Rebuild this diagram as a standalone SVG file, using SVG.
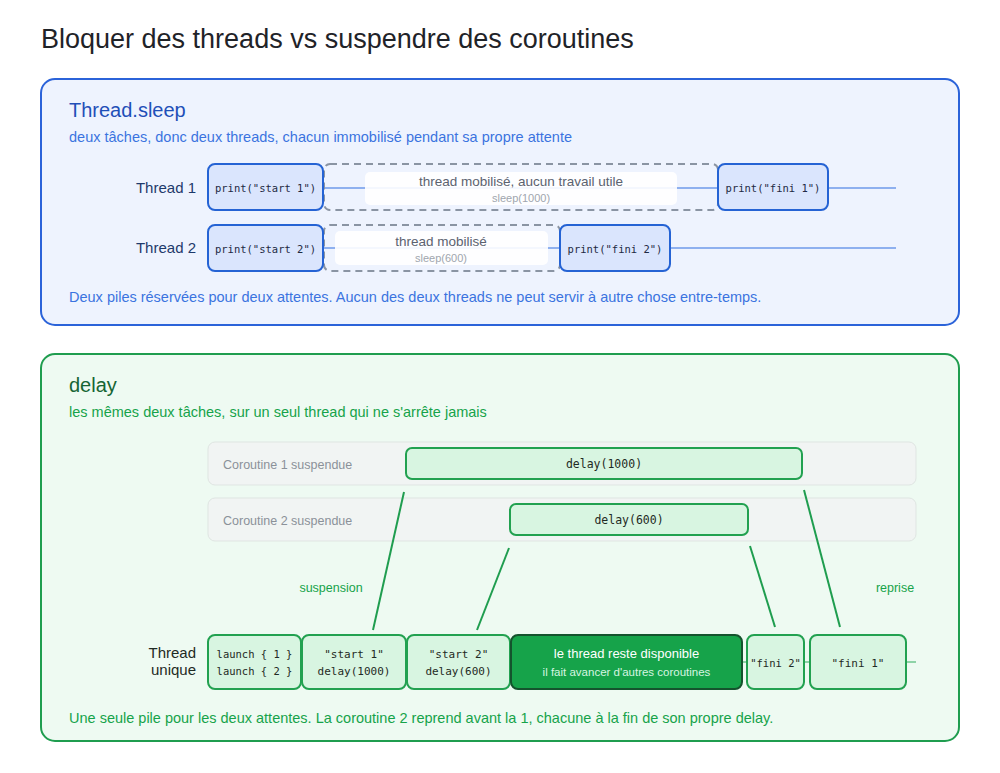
<svg xmlns="http://www.w3.org/2000/svg" width="1000" height="773" viewBox="0 0 1000 773">
<style>
.s{font-family:"Liberation Sans",Arial,sans-serif}
.m{font-family:"DejaVu Sans Mono","Liberation Mono",monospace}
.bb{fill:#dae5fd;stroke:#2563d4;stroke-width:2}
.gb{fill:#d8f5e1;stroke:#22a150;stroke-width:2}
.bl{stroke:#8eb0ef;stroke-width:2}
.gl{stroke:#1f9d4f;stroke-width:2}
</style>
<rect width="1000" height="773" fill="#ffffff"/>
<text class="s" x="41" y="48" font-size="27" fill="#1f2328">Bloquer des threads vs suspendre des coroutines</text>
<g id="panel-sleep">
<rect x="41" y="79" width="918" height="246" rx="14" fill="#eef3fe" stroke="#2b63d9" stroke-width="2"/>
<text class="s" x="69" y="117" font-size="20" fill="#1f4fb8">Thread.sleep</text>
<text class="s" x="69" y="142" font-size="14.5" fill="#3b73e0">deux tâches, donc deux threads, chacun immobilisé pendant sa propre attente</text>
<text class="s" x="69" y="302" font-size="14.5" fill="#3b73e0">Deux piles réservées pour deux attentes. Aucun des deux threads ne peut servir à autre chose entre-temps.</text>
</g>
<g id="panel-delay">
<rect x="41" y="354" width="918" height="387" rx="14" fill="#eefaf2" stroke="#1f9d4f" stroke-width="2"/>
<text class="s" x="69" y="392" font-size="20" fill="#166534">delay</text>
<text class="s" x="69" y="417" font-size="14.5" fill="#16a34a">les mêmes deux tâches, sur un seul thread qui ne s'arrête jamais</text>
<text class="s" x="69" y="723" font-size="14.5" fill="#16a34a">Une seule pile pour les deux attentes. La coroutine 2 reprend avant la 1, chacune à la fin de son propre delay.</text>
<text class="s" x="331" y="592" font-size="12.5" fill="#16a34a" text-anchor="middle">suspension</text>
<text class="s" x="895" y="592" font-size="12.5" fill="#16a34a" text-anchor="middle">reprise</text>
</g>
<g id="lane1">
<rect x="208" y="442" width="708" height="43" rx="7" fill="#f1f4f3" stroke="#dfe5e2"/>
<text class="s" x="223" y="469" font-size="12.5" fill="#8b9199">Coroutine 1 suspendue</text>
<rect class="gb" x="406" y="448" width="396" height="31" rx="6"/>
<text class="m" x="604" y="468" font-size="11.5" fill="#1f2a24" text-anchor="middle">delay(1000)</text>
</g>
<g id="lane2">
<rect x="208" y="498" width="708" height="43" rx="7" fill="#f1f4f3" stroke="#dfe5e2"/>
<text class="s" x="223" y="525" font-size="12.5" fill="#8b9199">Coroutine 2 suspendue</text>
<rect class="gb" x="510" y="504" width="238" height="31" rx="6"/>
<text class="m" x="629" y="524" font-size="11.5" fill="#1f2a24" text-anchor="middle">delay(600)</text>
</g>
<g id="connectors">
<line class="bl" x1="323" y1="188" x2="896" y2="188"/>
<line class="bl" x1="323" y1="248" x2="896" y2="248"/>
<line class="gl" x1="404" y1="492" x2="373" y2="630"/>
<line class="gl" x1="509" y1="548" x2="477" y2="630"/>
<line class="gl" x1="750" y1="546" x2="775" y2="627"/>
<line class="gl" x1="804" y1="490" x2="840" y2="627"/>
<line x1="742" y1="662" x2="916" y2="662" stroke="#8fd3a8" stroke-width="2"/>
</g>
<g id="thread1">
<text class="s" x="196" y="193" font-size="15" fill="#1e3a6b" text-anchor="end">Thread 1</text>
<rect x="324" y="164" width="394" height="46" rx="6" fill="none" stroke="#8a94a3" stroke-width="2" stroke-dasharray="7 5"/>
<rect x="365" y="172" width="312" height="33" rx="5" fill="#ffffff" opacity="0.9"/>
<text class="s" x="521" y="186" font-size="13.5" fill="#5b6270" text-anchor="middle">thread mobilisé, aucun travail utile</text>
<text class="s" x="521" y="202" font-size="11" fill="#a0a6ae" text-anchor="middle">sleep(1000)</text>
<g id="t1-start"><rect class="bb" x="208" y="164" width="115" height="46" rx="7"/><text class="m" x="265.5" y="192" font-size="10.5" fill="#1e2a44" text-anchor="middle">print("start 1")</text></g>
<g id="t1-fini"><rect class="bb" x="718" y="164" width="110" height="46" rx="7"/><text class="m" x="773" y="192" font-size="10.5" fill="#1e2a44" text-anchor="middle">print("fini 1")</text></g>
</g>
<g id="thread2">
<text class="s" x="196" y="253" font-size="15" fill="#1e3a6b" text-anchor="end">Thread 2</text>
<rect x="324" y="225" width="236" height="46" rx="6" fill="none" stroke="#8a94a3" stroke-width="2" stroke-dasharray="7 5"/>
<rect x="335" y="231" width="213" height="34" rx="5" fill="#ffffff" opacity="0.9"/>
<text class="s" x="441" y="246" font-size="13.5" fill="#5b6270" text-anchor="middle">thread mobilisé</text>
<text class="s" x="441" y="262" font-size="11" fill="#a0a6ae" text-anchor="middle">sleep(600)</text>
<g id="t2-start"><rect class="bb" x="208" y="225" width="115" height="46" rx="7"/><text class="m" x="265.5" y="253" font-size="10.5" fill="#1e2a44" text-anchor="middle">print("start 2")</text></g>
<g id="t2-fini"><rect class="bb" x="560" y="225" width="110" height="46" rx="7"/><text class="m" x="615" y="253" font-size="10.5" fill="#1e2a44" text-anchor="middle">print("fini 2")</text></g>
</g>
<g id="thread-unique">
<text class="s" x="196" y="658" font-size="15" fill="#1f2a24" text-anchor="end">Thread</text>
<text class="s" x="196" y="675" font-size="15" fill="#1f2a24" text-anchor="end">unique</text>
<g id="u-launch"><rect class="gb" x="208" y="635" width="93" height="54" rx="7"/><text class="m" x="254.5" y="658" font-size="10.5" fill="#1f2a24" text-anchor="middle">launch { 1 }</text><text class="m" x="254.5" y="675" font-size="10.5" fill="#1f2a24" text-anchor="middle">launch { 2 }</text></g>
<g id="u-start1"><rect class="gb" x="302" y="635" width="104" height="54" rx="7"/><text class="m" x="354" y="658" font-size="11" fill="#1f2a24" text-anchor="middle">"start 1"</text><text class="m" x="354" y="675" font-size="11" fill="#1f2a24" text-anchor="middle">delay(1000)</text></g>
<g id="u-start2"><rect class="gb" x="407" y="635" width="103" height="54" rx="7"/><text class="m" x="458.5" y="658" font-size="11" fill="#1f2a24" text-anchor="middle">"start 2"</text><text class="m" x="458.5" y="675" font-size="11" fill="#1f2a24" text-anchor="middle">delay(600)</text></g>
<g id="u-free"><rect x="511" y="635" width="231" height="54" rx="7" fill="#16a34a" stroke="#14532d" stroke-width="2"/><text class="s" x="626.5" y="658" font-size="13" fill="#ffffff" text-anchor="middle">le thread reste disponible</text><text class="s" x="626.5" y="676" font-size="11.5" fill="#d7f5e1" text-anchor="middle">il fait avancer d'autres coroutines</text></g>
<g id="u-fini2"><rect class="gb" x="747" y="635" width="57" height="54" rx="7"/><text class="m" x="775.5" y="667" font-size="10.5" fill="#1f2a24" text-anchor="middle">"fini 2"</text></g>
<g id="u-fini1"><rect class="gb" x="810" y="635" width="96" height="54" rx="7"/><text class="m" x="858" y="667" font-size="11" fill="#1f2a24" text-anchor="middle">"fini 1"</text></g>
</g>
</svg>
